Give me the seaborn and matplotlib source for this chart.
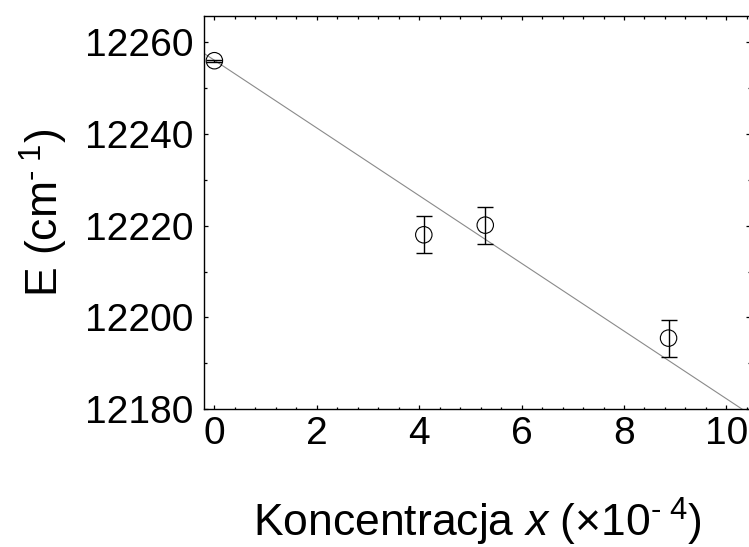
import numpy as np
import pandas as pd
import matplotlib
matplotlib.use("Agg")
import matplotlib.pyplot as plt
import seaborn as sns

# Measured transition energies vs. concentration
concentration = [0.0, 4.09, 5.29, 8.87]          # x (x10^-4)
energy = [12255.9, 12218.0, 12220.1, 12195.5]    # E (cm^-1)
energy_err = [0.2, 4.0, 4.0, 4.0]

# Linear fit E = a + b*x
fit_intercept = 12256.0
fit_slope = -7.37

x_ticks = [0, 2, 4, 6, 8, 10]
y_ticks = [12180, 12200, 12220, 12240, 12260]

df = pd.DataFrame({"x": concentration, "E": energy, "err": energy_err})

sns.set_theme(style="ticks")
plt.rcParams["font.family"] = ["Liberation Sans", "DejaVu Sans"]
plt.rcParams["mathtext.fontset"] = "custom"
plt.rcParams["mathtext.rm"] = "Liberation Sans"
plt.rcParams["mathtext.it"] = "Liberation Sans:italic"
for key in ["text.color", "axes.labelcolor", "xtick.color", "ytick.color",
            "xtick.labelcolor", "ytick.labelcolor", "axes.edgecolor"]:
    plt.rcParams[key] = "black"

fig = plt.figure(figsize=(7.49, 5.47), dpi=100)
ax = fig.add_axes([0.2729, 0.2517, 0.7284, 0.7196])

xlim = (-0.195, 10.46)
ylim = (12180, 12265.7)

# fit line across the full x range
fit_x = np.array(xlim)
fit_df = pd.DataFrame({"x": fit_x, "E": fit_intercept + fit_slope * fit_x})
sns.lineplot(data=fit_df, x="x", y="E", ax=ax, color="#8a8a8a", linewidth=0.8)

ax.errorbar(df["x"], df["E"], yerr=df["err"], fmt="none", ecolor="black",
            elinewidth=1.0, capsize=6.0, capthick=1.0, zorder=3)
sns.scatterplot(data=df, x="x", y="E", ax=ax, marker="o", s=140,
                facecolor="none", edgecolor="black", linewidth=0.8, zorder=4)

ax.set_xlim(*xlim)
ax.set_ylim(*ylim)
ax.set_xticks(x_ticks)
ax.set_yticks(y_ticks)
ax.set_xticks(np.arange(0, 10.5, 0.4), minor=True)
ax.set_yticks(np.arange(12180, 12266, 10), minor=True)

for side in ["top", "right", "left", "bottom"]:
    ax.spines[side].set_visible(True)
    ax.spines[side].set_linewidth(1.0)
    ax.spines[side].set_color("black")

ax.tick_params(which="both", direction="in", top=True, right=True,
               color="black", width=0.9)
ax.tick_params(which="major", length=3, labelsize=28, labelcolor="black")
ax.tick_params(axis="x", which="major", pad=5)
ax.tick_params(axis="y", which="major", pad=8)
ax.tick_params(which="minor", length=1.8)

ax.set_xlabel("Koncentracja $x$ (×10$^{\u2010\\ 4}$)", fontsize=32, color="black")
ax.set_ylabel("E (cm$^{\u2010\\ 1}$)", fontsize=32, color="black")
ax.xaxis.set_label_coords(0.5, -0.22)
ax.yaxis.set_label_coords(-0.247, 0.5)

fig.savefig("out.png", dpi=100)
